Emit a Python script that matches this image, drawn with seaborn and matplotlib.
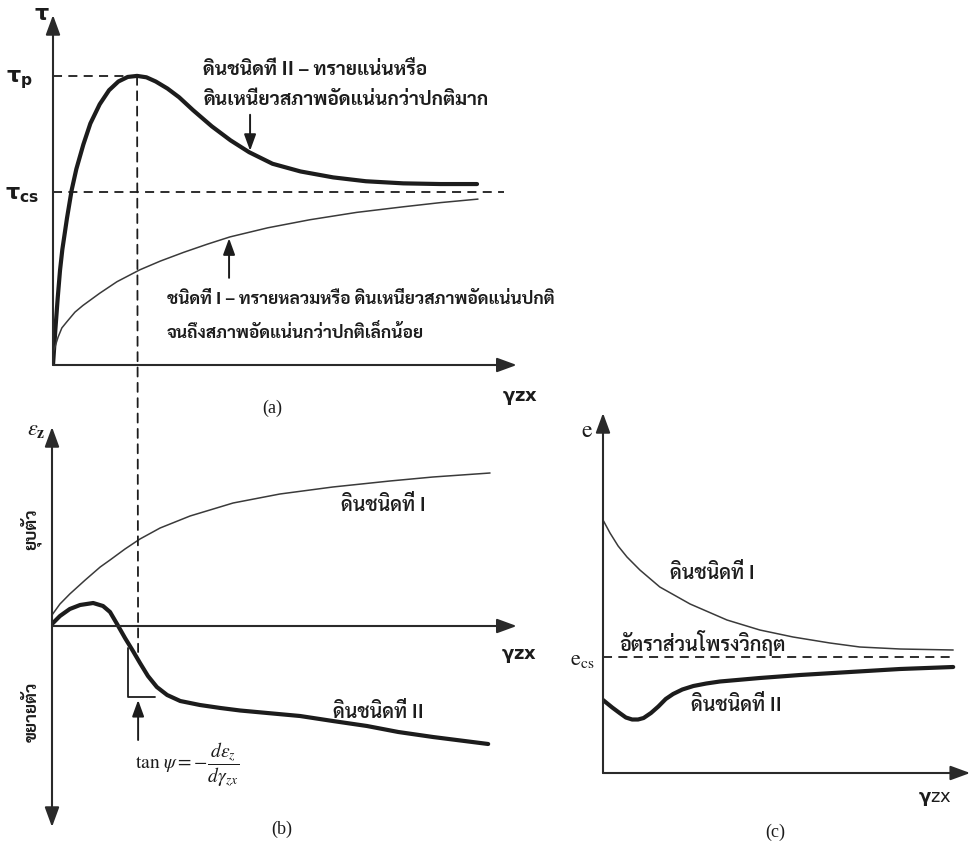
import matplotlib
matplotlib.use("Agg")
import matplotlib.pyplot as plt
from matplotlib import font_manager
from matplotlib.patches import ConnectionPatch
import pandas as pd
import seaborn as sns

# ---------------------------------------------------------------- data
# (a) shear stress tau against shear strain gamma_zx
tau_p = 0.826          # peak shear stress
tau_cs = 0.494         # critical-state shear stress
gamma_peak = 1.8       # strain at peak
a_type2_gamma = [0, 0.05, 0.1, 0.15, 0.2, 0.3, 0.4, 0.5, 0.65, 0.8, 1.0, 1.2, 1.4, 1.6,
                 1.8, 2.0, 2.2, 2.45, 2.7, 3.0, 3.4, 3.8, 4.2, 4.7, 5.3, 6.0, 6.7, 7.5, 8.3, 9.08]
a_type2_tau = [0, 0.10, 0.19, 0.27, 0.33, 0.42, 0.50, 0.56, 0.63, 0.69, 0.745, 0.785, 0.810, 0.823,
               0.826, 0.822, 0.810, 0.790, 0.765, 0.728, 0.682, 0.642, 0.608, 0.575, 0.553, 0.536,
               0.525, 0.519, 0.517, 0.517]
a_type1_gamma = [0, 0.04, 0.11, 0.19, 0.30, 0.47, 0.64, 1.0, 1.37, 1.86, 2.3, 2.8, 3.3, 3.79,
                 4.6, 5.5, 6.5, 7.5, 8.3, 9.1]
a_type1_tau = [0.035, 0.051, 0.08, 0.106, 0.124, 0.151, 0.17, 0.205, 0.238, 0.272, 0.297, 0.322,
               0.345, 0.366, 0.392, 0.415, 0.436, 0.452, 0.464, 0.474]

# (b) vertical strain eps_z against gamma_zx (positive = compression)
b_type1_gamma = [0, 0.17, 0.38, 0.71, 1.03, 1.24, 1.56, 1.88, 2.31, 2.95, 3.87, 4.87, 6.0, 7.22, 8.14, 9.36]
b_type1_eps = [0.11, 0.22, 0.32, 0.46, 0.59, 0.66, 0.77, 0.87, 0.98, 1.10, 1.23, 1.32, 1.39, 1.45, 1.49, 1.53]
b_type2_gamma = [0, 0.17, 0.38, 0.60, 0.88, 1.09, 1.24, 1.39, 1.56, 1.73, 1.88, 2.05, 2.24, 2.46,
                 2.74, 3.16, 3.6, 4.02, 4.6, 5.3, 6.0, 6.73, 7.4, 8.14, 9.32]
b_type2_eps = [0.02, 0.10, 0.17, 0.21, 0.23, 0.20, 0.14, 0.02, -0.12, -0.25, -0.37, -0.50, -0.61,
               -0.69, -0.75, -0.79, -0.82, -0.845, -0.87, -0.90, -0.95, -1.00, -1.06, -1.11, -1.18]
tri_gamma = [1.62, 1.62, 2.20]
tri_eps = [-0.22, -0.71, -0.71]

# (c) void ratio e against gamma_zx
e_cs = 1.16
c_type1_gamma = [0, 0.19, 0.41, 0.65, 1.0, 1.54, 2.36, 3.36, 4.25, 5.15, 6.15, 6.96, 8.05, 9.49]
c_type1_e = [2.53, 2.40, 2.27, 2.16, 2.03, 1.86, 1.69, 1.53, 1.43, 1.36, 1.30, 1.26, 1.24, 1.23]
c_type2_gamma = [0, 0.1, 0.25, 0.45, 0.62, 0.79, 0.95, 1.1, 1.3, 1.5, 1.7, 1.9, 2.15, 2.45, 2.8,
                 3.17, 4.25, 5.34, 6.69, 8.05, 9.49]
c_type2_e = [0.73, 0.70, 0.655, 0.60, 0.555, 0.535, 0.535, 0.55, 0.60, 0.665, 0.74, 0.79, 0.835,
             0.87, 0.895, 0.915, 0.95, 0.98, 1.01, 1.04, 1.06]

# text
txt_a2 = ["ดินชนิดที่ II – ทรายแน่นหรือ", "ดินเหนียวสภาพอัดแน่นกว่าปกติมาก"]
txt_a1 = ["ชนิดที่ I – ทรายหลวมหรือ ดินเหนียวสภาพอัดแน่นปกติ", "จนถึงสภาพอัดแน่นกว่าปกติเล็กน้อย"]
txt_type1 = "ดินชนิดที่ I"
txt_type2 = "ดินชนิดที่ II"
txt_compress = "ยุบตัว"
txt_dilate = "ขยายตัว"
txt_critical = "อัตราส่วนโพรงวิกฤต"

# ---------------------------------------------------------------- style
sns.set_theme(style="white")
available = {f.name for f in font_manager.fontManager.ttflist}
thai = next((f for f in ["Sarabun", "Noto Serif Thai", "Taviraj", "Noto Sans Thai Looped",
                         "Noto Sans Thai", "Athiti"] if f in available), "DejaVu Sans")
plt.rcParams["font.family"] = [thai, "DejaVu Sans"]
plt.rcParams["mathtext.fontset"] = "stix"

INK = "#1c1c1c"
THIN = "#3a3a3a"
DASH = (0, (5, 3.5))
W, H = 972, 843

fig = plt.figure(figsize=(W / 100, H / 100), dpi=100)
fig.patch.set_facecolor("white")


def box(left, top, right, bottom):
    """Axes rectangle given in pixel edges of the canvas."""
    return [left / W, 1 - bottom / H, (right - left) / W, (bottom - top) / H]


def ftext(x, y, s, **kw):
    """Text placed at a canvas pixel position."""
    kw.setdefault("ha", "center")
    kw.setdefault("va", "center")
    kw.setdefault("color", INK)
    return fig.text(x / W, 1 - y / H, s, **kw)


def axis_arrow(ax, start, end, both=False, lw=1.5):
    style = "<|-|>" if both else "-|>"
    ax.annotate("", xy=end, xytext=start, xycoords="axes fraction", textcoords="axes fraction",
                arrowprops=dict(arrowstyle=style + ",head_length=0.6,head_width=0.22",
                                mutation_scale=20, lw=lw, color="#2a2a2a",
                                shrinkA=0, shrinkB=0))


def pointer(ax, start, end):
    ax.annotate("", xy=end, xytext=start, xycoords="data", textcoords="data",
                arrowprops=dict(arrowstyle="-|>,head_length=0.55,head_width=0.2",
                                mutation_scale=18, lw=1.4, color=INK, shrinkA=0, shrinkB=0))


def curve(ax, xs, ys, lw, color):
    df = pd.DataFrame({"x": xs, "y": ys})
    sns.lineplot(data=df, x="x", y="y", ax=ax, color=color, lw=lw, sort=False,
                 estimator=None, solid_capstyle="round", solid_joinstyle="round")


# ---------------------------------------------------------------- (a)
ax_a = fig.add_axes(box(53, 15, 520, 365))
ax_a.set_xlim(0, 10)
ax_a.set_ylim(0, 1)
ax_a.set_axis_off()
axis_arrow(ax_a, (0, 0), (0, 1))
axis_arrow(ax_a, (0, 0), (0.993, 0))
curve(ax_a, a_type2_gamma, a_type2_tau, 3.0, INK)
curve(ax_a, a_type1_gamma, a_type1_tau, 1.1, THIN)
ax_a.plot([0, gamma_peak], [tau_p, tau_p], ls=DASH, lw=1.3, color=INK)
ax_a.plot([0, 9.66], [tau_cs, tau_cs], ls=DASH, lw=1.3, color=INK)
pointer(ax_a, (4.22, 0.715), (4.22, 0.612))
pointer(ax_a, (3.77, 0.249), (3.77, 0.362))

ftext(42, 14, r"$\mathbf{\tau}$", fontsize=16, math_fontfamily="dejavusans")
ftext(19, 80, r"$\mathbf{\tau_p}$", fontsize=16, math_fontfamily="dejavusans")
ftext(22, 195, r"$\mathbf{\tau_{cs}}$", fontsize=16, math_fontfamily="dejavusans")
ftext(520, 398, r"$\mathbf{\gamma}$zx", fontsize=13, fontweight="bold",
      math_fontfamily="dejavusans", family="DejaVu Sans")
ftext(203, 70, txt_a2[0], ha="left", fontsize=13.8, fontweight="bold")
ftext(203, 100, txt_a2[1], ha="left", fontsize=13.8, fontweight="bold")
ftext(167, 299, txt_a1[0], ha="left", fontsize=12.5, fontweight="bold")
ftext(167, 333, txt_a1[1], ha="left", fontsize=12.5, fontweight="bold")
ftext(272, 408, "(a)", fontsize=13, family="Liberation Serif")

# ---------------------------------------------------------------- (b)
ax_b = fig.add_axes(box(52, 427, 520, 827))
ax_b.set_xlim(0, 10)
ax_b.set_ylim(-2.01, 1.99)
ax_b.set_axis_off()
axis_arrow(ax_b, (0, 0), (0, 1), both=True)
ax_b.annotate("", xy=(9.93, 0), xytext=(0, 0),
              arrowprops=dict(arrowstyle="-|>,head_length=0.6,head_width=0.22",
                              mutation_scale=20, lw=1.5, color="#2a2a2a", shrinkA=0, shrinkB=0))
curve(ax_b, b_type1_gamma, b_type1_eps, 1.1, THIN)
curve(ax_b, b_type2_gamma, b_type2_eps, 3.0, INK)
ax_b.plot(tri_gamma, tri_eps, lw=1.3, color=INK)
pointer(ax_b, (1.84, -1.14), (1.84, -0.74))

ftext(36, 430, r"$\varepsilon_\mathbf{z}$", fontsize=16)
ftext(30, 529, txt_compress, rotation=90, fontsize=12.5, fontweight="bold")
ftext(32, 712, txt_dilate, rotation=90, fontsize=12.5, fontweight="bold")
ftext(383, 505, txt_type1, fontsize=14, fontweight="semibold")
ftext(378, 712, txt_type2, fontsize=14, fontweight="semibold")
ftext(519, 656, r"$\mathbf{\gamma}$zx", fontsize=13, fontweight="bold",
      math_fontfamily="dejavusans", family="DejaVu Sans")
ftext(135, 765, r"$\tan\,\psi = -\dfrac{d\varepsilon_z}{d\gamma_{zx}}$", ha="left", fontsize=14)
ftext(282, 829, "(b)", fontsize=13, family="Liberation Serif")

# peak-strain guide running from (a) down into (b)
guide = ConnectionPatch(xyA=(gamma_peak, tau_p), coordsA=ax_a.transData,
                        xyB=(1.84, -0.26), coordsB=ax_b.transData,
                        ls=DASH, lw=1.3, color=INK)
fig.add_artist(guide)

# ---------------------------------------------------------------- (c)
ax_c = fig.add_axes(box(603, 413, 972, 773))
ax_c.set_xlim(0, 10)
ax_c.set_ylim(0, 3.6)
ax_c.set_axis_off()
axis_arrow(ax_c, (0, 0), (0, 1))
axis_arrow(ax_c, (0, 0), (0.995, 0))
curve(ax_c, c_type1_gamma, c_type1_e, 1.1, THIN)
curve(ax_c, c_type2_gamma, c_type2_e, 3.0, INK)
ax_c.plot([0, 9.49], [e_cs, e_cs], ls=DASH, lw=1.3, color=INK)

ftext(587, 431, r"$\mathrm{e}$", fontsize=17)
ftext(582, 660, r"$\mathrm{e}_{\mathrm{cs}}$", fontsize=16)
ftext(712, 573, txt_type1, fontsize=14, fontweight="semibold")
ftext(702, 643, txt_critical, fontsize=14.3, fontweight="semibold")
ftext(736, 705, txt_type2, fontsize=14, fontweight="semibold")
ftext(935, 799, r"$\mathbf{\gamma}$zx", fontsize=13,
      math_fontfamily="dejavusans", family="DejaVu Sans")
ftext(775, 832, "(c)", fontsize=13, family="Liberation Serif")

fig.savefig("out.png", dpi=100, facecolor="white")
